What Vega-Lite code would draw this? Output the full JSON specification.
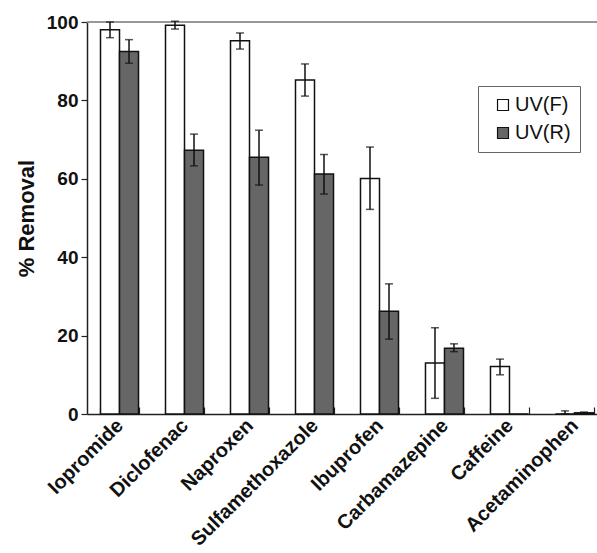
{
  "$schema": "https://vega.github.io/schema/vega-lite/v6.json",
  "width": 510,
  "height": 392,
  "autosize": {"type": "none"},
  "padding": {"left": 87, "top": 22, "right": 0, "bottom": 139},
  "background": "white",
  "config": {
    "view": {"stroke": null},
    "font": "Liberation Sans",
    "axis": {"labelFont": "Liberation Sans", "titleFont": "Liberation Sans", "domainColor": "#222", "tickColor": "#222", "domainWidth": 1.5, "tickWidth": 1.2, "grid": false, "labelColor": "#111", "titleColor": "#111"}
  },
  "data": {
    "values": [
      {"drug": "Iopromide", "series": "UV(F)", "value": 98, "lo": 96, "hi": 100},
      {"drug": "Iopromide", "series": "UV(R)", "value": 92.5, "lo": 89.5, "hi": 95.5},
      {"drug": "Diclofenac", "series": "UV(F)", "value": 99.2, "lo": 98.2, "hi": 100.2},
      {"drug": "Diclofenac", "series": "UV(R)", "value": 67.3, "lo": 63.3, "hi": 71.4},
      {"drug": "Naproxen", "series": "UV(F)", "value": 95.2, "lo": 93.1, "hi": 97.2},
      {"drug": "Naproxen", "series": "UV(R)", "value": 65.5, "lo": 58.4, "hi": 72.4},
      {"drug": "Sulfamethoxazole", "series": "UV(F)", "value": 85.2, "lo": 81.1, "hi": 89.3},
      {"drug": "Sulfamethoxazole", "series": "UV(R)", "value": 61.2, "lo": 56.1, "hi": 66.2},
      {"drug": "Ibuprofen", "series": "UV(F)", "value": 60.1, "lo": 52.2, "hi": 68.1},
      {"drug": "Ibuprofen", "series": "UV(R)", "value": 26.2, "lo": 19.1, "hi": 33.2},
      {"drug": "Carbamazepine", "series": "UV(F)", "value": 13, "lo": 4, "hi": 22},
      {"drug": "Carbamazepine", "series": "UV(R)", "value": 16.8, "lo": 15.9, "hi": 17.9},
      {"drug": "Caffeine", "series": "UV(F)", "value": 12.1, "lo": 10, "hi": 14},
      {"drug": "Caffeine", "series": "UV(R)", "value": 0, "lo": null, "hi": null},
      {"drug": "Acetaminophen", "series": "UV(F)", "value": 0, "lo": 0, "hi": 0.8},
      {"drug": "Acetaminophen", "series": "UV(R)", "value": 0.3, "lo": 0.1, "hi": 0.5}
    ]
  },
  "encoding": {
    "x": {
      "field": "drug", "type": "nominal", "sort": null,
      "scale": {"range": [0, 520], "paddingInner": 0.415, "paddingOuter": 0.2077},
      "axis": {"title": null, "labelAngle": -45, "labelAlign": "right", "labelBaseline": "top", "labelFontSize": 20, "labelFontWeight": "bold", "tickBand": "extent", "tickSize": -7, "labelPadding": 8, "labelOffset": -7, "labelBound": false, "labelOverlap": false}
    },
    "xOffset": {"field": "series", "type": "nominal"}
  },
  "layer": [
    {
      "mark": {"type": "rule", "color": "#999", "strokeWidth": 1.5},
      "encoding": {"y": {"datum": 100}, "x": null, "xOffset": null}
    },
    {
      "mark": {"type": "bar", "stroke": "#111", "strokeWidth": 1.5},
      "encoding": {
        "y": {"field": "value", "type": "quantitative", "scale": {"domain": [0, 100], "nice": false},
          "axis": {"title": "% Removal", "titleFontSize": 22, "titleFontWeight": "bold", "titlePadding": 8, "labelFontSize": 19, "labelFontWeight": "bold", "values": [0, 20, 40, 60, 80, 100], "tickSize": 6, "labelPadding": 3}},
        "fill": {"field": "series", "type": "nominal", "scale": {"domain": ["UV(F)", "UV(R)"], "range": ["white", "#666666"]},
          "legend": {"title": null, "orient": "none", "legendX": 391, "legendY": 64, "symbolType": "square", "symbolSize": 120, "symbolStrokeColor": "#111", "symbolStrokeWidth": 1.2, "labelFontSize": 20, "labelFont": "Liberation Sans", "labelColor": "#111", "strokeColor": "#666", "padding": 9, "rowPadding": 8, "labelOffset": 2, "symbolOffset": 6}}
      }
    },
    {
      "mark": {"type": "rule", "color": "#111", "strokeWidth": 1.5},
      "encoding": {"y": {"field": "lo", "type": "quantitative"}, "y2": {"field": "hi"}}
    },
    {
      "mark": {"type": "tick", "color": "#111", "thickness": 1.5, "size": 8, "orient": "horizontal"},
      "encoding": {"y": {"field": "lo", "type": "quantitative"}}
    },
    {
      "mark": {"type": "tick", "color": "#111", "thickness": 1.5, "size": 8, "orient": "horizontal"},
      "encoding": {"y": {"field": "hi", "type": "quantitative"}}
    }
  ]
}
